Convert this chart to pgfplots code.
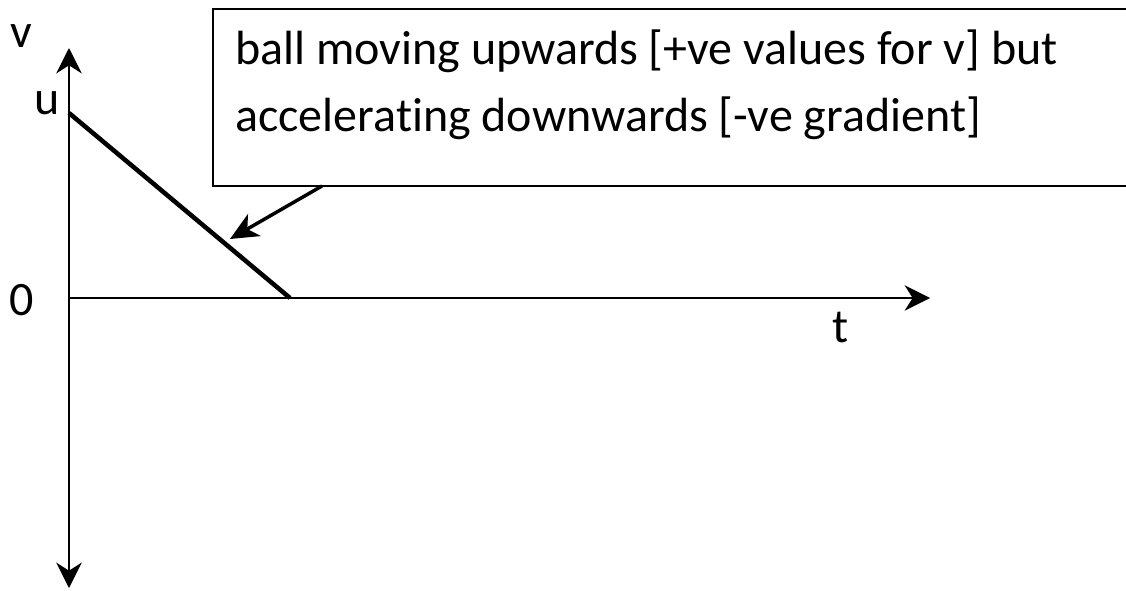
\documentclass[border=0pt]{standalone}
\usepackage{fontspec}
\setmainfont{Carlito}[Ligatures=NoCommon]
\usepackage{pgfplots}
\pgfplotsset{compat=1.18}
\usetikzlibrary{arrows.meta}

% velocity-time sketch: one unit = one pixel of the 1126 x 590 canvas,
% origin where the t axis meets the v axis
\pgfplotstableread{
t   v
0   185
221 0
}\vline

\tikzset{
  >={Stealth[length=19pt,width=19pt,inset=6pt]},
  lbl/.style={anchor=base, font=\fontsize{36}{43}\selectfont},
}

\begin{document}
\begin{tikzpicture}
\begin{axis}[
  hide axis,
  scale only axis,
  width=844.5pt, height=442.5pt,
  xmin=-69, xmax=1057,
  ymin=-292, ymax=298,
  clip=false,
]
  % axes
  \draw[line width=2pt, <->] (axis cs:0,-290) -- (axis cs:0,250);
  \draw[line width=2pt, ->] (axis cs:0,0) -- (axis cs:861,0);

  % v against t for the ball thrown upwards
  \addplot[black, line width=3.4pt, line cap=butt] table[x=t, y=v] {\vline};

  % axis labels
  \node[lbl] at (axis cs:-48,250) {v};
  \node[lbl] at (axis cs:-22,183) {u};
  \node[lbl] at (axis cs:-47,-17) {0};
  \node[lbl] at (axis cs:772,-44) {t};

  % callout box
  \draw[line width=1.5pt, fill=white] (axis cs:144,289) rectangle (axis cs:1080,112);
  \node[anchor=base west, font=\fontsize{36}{43}\selectfont, inner sep=0pt] at (axis cs:166,233)
    {ball moving upwards [+ve values for v] but};
  \node[anchor=base west, font=\fontsize{36}{43}\selectfont, inner sep=0pt] at (axis cs:166,166)
    {accelerating downwards [-ve gradient]};
  \draw[line width=2.6pt, -{Stealth[length=21pt,width=19pt,inset=6pt]}]
    (axis cs:253,112) -- (axis cs:161,59);
\end{axis}
\pgfresetboundingbox
\useasboundingbox (current axis.south west) rectangle (current axis.north east);
\end{tikzpicture}
\end{document}
